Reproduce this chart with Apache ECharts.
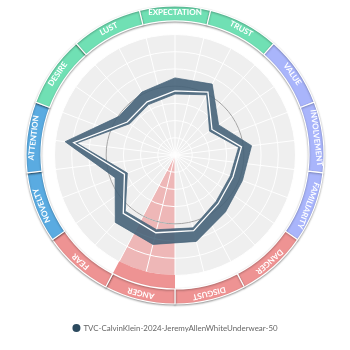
<!DOCTYPE html>
<html><head><meta charset="utf-8">
<script src="https://cdn.jsdelivr.net/npm/echarts@6/dist/echarts.min.js"></script>
<style>html,body{margin:0;padding:0;background:#fff}#c{width:350px;height:350px}</style>
</head><body><div id="c"></div>
<script>
// ---- data ----
const categories = ['EXPECTATION','TRUST','VALUE','INVOLVEMENT','FAMILIARITY','DANGER','DISGUST','ANGER','FEAR','NOVELTY','ATTENTION','DESIRE','LUST'];
const categoryGroup = ['g','g','v','v','v','r','r','r','r','b','b','g','g'];
const upperValues = [44.8, 46.5, 30.8, 44.8, 41.9, 44.2, 51.7, 53.5, 52.3, 37.2, 64.3, 39.5, 41.3];
const meanValues  = [37.2, 41.2, 26.1, 38.9, 36.0, 37.8, 45.3, 46.5, 45.3, 31.4, 59.3, 33.7, 34.9];
const lowerValues = [35.4, 39.5, 24.4, 37.2, 34.3, 36.0, 43.6, 44.7, 43.6, 29.6, 57.5, 32.0, 33.1];
const benchmarkValue = 40;
const highlightedCategory = 'ANGER';
const seriesName = 'TVC-CalvinKlein-2024-JeremyAllenWhiteUnderwear-50';
const radiusMax = 70, radiusInterval = 10;

// ---- styles ----
const groupColors = { g: '#70e0b4', v: '#a9b5fb', r: '#ee9393', b: '#5aabe1' };
const CENTER = [175, 155];
const R = 120.5;
const N = categories.length;
const step = 360 / N;
const FONT = 'Lato';

const chart = echarts.init(document.getElementById('c'), null, { renderer: 'canvas' });

function angleOf(k) { return k * step; }

const ringData = categories.map((c, k) => ({
  name: c, value: 1,
  itemStyle: { color: groupColors[categoryGroup[k]] }
}));
const labelData = categories.map((c, k) => ({
  name: c, value: 1,
  itemStyle: { color: 'rgba(0,0,0,0)', borderWidth: 0 },
  label: { rotate: -angleOf(k) }
}));
const hiData = categories.map((c, k) => ({
  name: c, value: 1,
  itemStyle: { color: c === highlightedCategory ? groupColors[categoryGroup[k]] : 'rgba(0,0,0,0)', borderWidth: 0 }
}));
const wedgeData = categories.map((c, k) => ({
  name: c, value: 1,
  itemStyle: { color: c === highlightedCategory ? 'rgba(238,128,128,0.5)' : 'rgba(0,0,0,0)', borderWidth: 0 }
}));

const option = {
  animation: false,
  backgroundColor: '#fff',
  polar: { center: CENTER, radius: R },
  angleAxis: {
    type: 'value', min: 0, max: 360, interval: step / 2, startAngle: 90, clockwise: true, z: 3,
    axisLine: { show: false }, axisTick: { show: false }, axisLabel: { show: false },
    splitLine: { show: true, lineStyle: { color: '#ffffff', width: 1 } }
  },
  radiusAxis: {
    type: 'value', min: 0, max: radiusMax, interval: radiusInterval, z: 3,
    axisLine: { show: false }, axisTick: { show: false }, axisLabel: { show: false },
    splitLine: { show: true, lineStyle: { color: '#ffffff', width: 1 } }
  },
  legend: {
    data: [{ name: seriesName, icon: 'circle', itemStyle: { color: '#2c4a5f' } }],
    left: 'center', top: 319, itemWidth: 8, itemHeight: 8, selectedMode: false,
    textStyle: { fontSize: 7.9, color: '#666', fontFamily: FONT, padding: [0, 0, 0, -2] }
  },
  series: [
    { type: 'pie', silent: true, z: 1, center: CENTER, radius: [0, R], label: { show: false },
      data: [{ value: 1, name: 'bg', itemStyle: { color: '#efefef', borderWidth: 0 } }] },
    { type: 'pie', silent: true, z: 2, center: CENTER, radius: [0, R], startAngle: 90 + step / 2,
      label: { show: false }, labelLine: { show: false }, data: wedgeData },
    { type: 'custom', coordinateSystem: 'polar', silent: true, z: 4, data: [[0, 0]],
      renderItem: function (params, api) {
        const c = api.coord([0, 0]);
        const p = api.coord([benchmarkValue, 0]);
        const r = Math.hypot(p[0] - c[0], p[1] - c[1]);
        return { type: 'circle', shape: { cx: c[0], cy: c[1], r: r },
          style: { fill: 'none', stroke: '#a3a3a3', lineWidth: 1 } };
      } },
    { type: 'custom', name: seriesName, coordinateSystem: 'polar', silent: true, z: 5, data: [[0, 0]],
      itemStyle: { color: '#2c4a5f' },
      renderItem: function (params, api) {
        const up = upperValues.map((v, k) => api.coord([v, angleOf(k)]));
        const lo = lowerValues.map((v, k) => api.coord([v, angleOf(k)])).reverse();
        const mid = meanValues.map((v, k) => api.coord([v, angleOf(k)]));
        const toPath = pts => 'M' + pts.map(p => p[0].toFixed(2) + ' ' + p[1].toFixed(2)).join(' L') + ' Z';
        return { type: 'group', children: [
          { type: 'path', shape: { pathData: toPath(up) + ' ' + toPath(lo) },
            style: { fill: 'rgba(70,99,121,0.9)', stroke: 'rgba(70,99,121,0.9)', lineWidth: 0.8, lineJoin: 'miter' } },
          { type: 'polygon', shape: { points: mid },
            style: { fill: 'none', stroke: '#ffffff', lineWidth: 1.3, lineJoin: 'miter' } }
        ] };
      } },
    { type: 'pie', silent: true, z: 6, center: CENTER, radius: [120, 149], startAngle: 90 + step / 2,
      label: { show: false }, labelLine: { show: false }, data: hiData },
    { type: 'pie', silent: true, z: 7, center: CENTER, radius: [134, 149], startAngle: 90 + step / 2,
      itemStyle: { borderColor: '#ffffff', borderWidth: 1.2, shadowBlur: 2, shadowColor: 'rgba(0,0,0,0.35)', shadowOffsetY: 1 },
      label: { show: false }, labelLine: { show: false },
      data: ringData },
    { type: 'pie', silent: true, z: 8, center: CENTER, radius: [131, 148], startAngle: 90 + step / 2,
      avoidLabelOverlap: false,
      label: { show: true, position: 'inside', color: '#ffffff', fontSize: 8, fontWeight: 'bold', fontFamily: FONT, formatter: '{b}' },
      labelLine: { show: false },
      data: labelData }
  ]
};
chart.setOption(option);
</script></body></html>
